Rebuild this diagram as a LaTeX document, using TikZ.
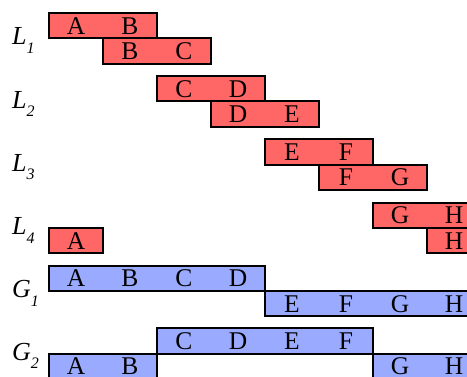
\documentclass[tikz,border=0pt]{standalone}
\usepackage{amssymb, amsmath}
\usepackage{fontspec}
\setmainfont{Liberation Serif}
\usetikzlibrary{positioning}
\definecolor{lred}{RGB}{255,102,102}
\definecolor{gblue}{RGB}{153,170,255}
\newcommand{\colname}[1]{\ifcase#1 A\or B\or C\or D\or E\or F\or G\or H\fi}
% one bar: style, name, first column, last column, top edge
\newcommand{\segment}[5]{%
  \draw[#1] (49+54*#3,#5) rectangle (103+54*#4,#5+25.3);
  \foreach \k in {#3,...,#4}
    \node[letter] (#2-\k) at (76+54*\k,#5+12.65) {\colname{\k}};
}
% row label: name, letter, index, top edge
\newcommand{\rowlabel}[4]{%
  \node[lab] (#1) at (12,#4+32) {\textit{#2}\raisebox{-8.5pt}{\fontsize{16}{16}\selectfont\textit{#3}}};
}

\begin{document}
\begin{tikzpicture}[x=1pt, y=-1pt,
    letter/.style={inner sep=0pt, text height=17pt, text depth=0pt, font=\fontsize{25.5}{30}\selectfont},
    lab/.style={inner sep=0pt, anchor=base west, font=\fontsize{26}{30}\selectfont},
    redbar/.style={draw=black, fill=lred, line width=2pt},
    bluebar/.style={draw=black, fill=gblue, line width=2pt}]
	\useasboundingbox (0,0) rectangle (467,377);
	\clip (0,0) rectangle (467,377);
	% L rows
	\segment{redbar}{l1a}{0}{1}{13}
	\segment{redbar}{l1b}{1}{2}{38.3}
	\segment{redbar}{l2a}{2}{3}{76.2}
	\segment{redbar}{l2b}{3}{4}{101.5}
	\segment{redbar}{l3a}{4}{5}{139.4}
	\segment{redbar}{l3b}{5}{6}{164.7}
	\segment{redbar}{l4a}{6}{7}{202.6}
	\segment{redbar}{l4b}{7}{7}{227.9}
	\segment{redbar}{l4c}{0}{0}{227.9}
	% G rows
	\segment{bluebar}{g1a}{0}{3}{265.8}
	\segment{bluebar}{g1b}{4}{7}{291.1}
	\segment{bluebar}{g2a}{2}{5}{328.5}
	\segment{bluebar}{g2b}{0}{1}{353.8}
	\segment{bluebar}{g2c}{6}{7}{353.8}
	% labels
	\rowlabel{lab1}{L}{1}{13}
	\rowlabel{lab2}{L}{2}{76.2}
	\rowlabel{lab3}{L}{3}{139.4}
	\rowlabel{lab4}{L}{4}{202.6}
	\rowlabel{labg1}{G}{1}{265.8}
	\rowlabel{labg2}{G}{2}{328.5}
\end{tikzpicture}
\end{document}
